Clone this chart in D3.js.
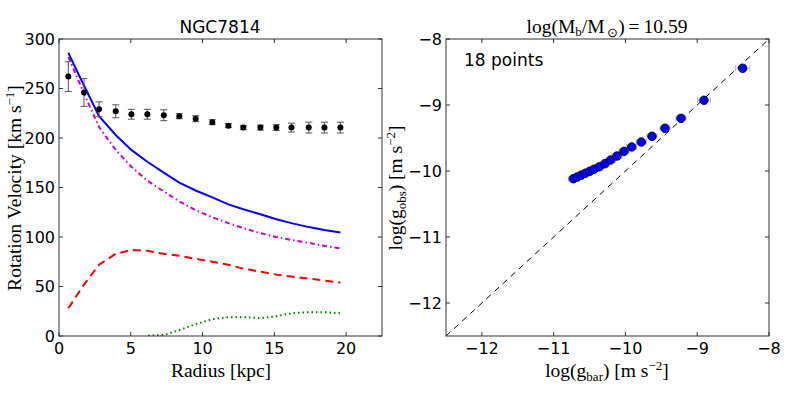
<!DOCTYPE html>
<html>
<head>
<meta charset="utf-8">
<script src="https://cdn.jsdelivr.net/npm/d3@7"></script>
<style>
  body { margin: 0; background: #fff; }
  svg { display: block; }
  .tick-label { font-family: "DejaVu Sans", sans-serif; font-size: 16px; fill: #000; }
  .axis-label { font-family: "Liberation Serif", serif; font-size: 19.5px; fill: #000; }
</style>
</head>
<body>
<svg id="chart" width="789" height="395"></svg>
<script>
/* global d3 */

// left panel: rotation curve
const radius = [0.65, 1.74, 2.79, 3.95, 5.04, 6.15, 7.3, 8.38, 9.52, 10.68, 11.8, 12.84, 14.03, 15.14, 16.19, 17.4, 18.49, 19.6];
const vObs = [262, 246, 229, 227, 224, 224, 223, 222, 219.5, 216, 212.5, 210.5, 210.5, 210.5, 210.5, 210.5, 210.5, 210.5];
const vErr = [15, 14, 7.5, 6.5, 5, 5, 5.5, 2.5, 3, 2.5, 2, 2, 2.5, 3, 4.5, 5.5, 5.5, 5.5];
const vBar = [286, 253, 222, 203, 188, 176, 165, 155, 147, 140, 133, 128, 123, 118, 114, 110, 107, 104.5];
const vBulge = [282, 245, 211, 188, 171, 157, 146, 136, 127, 120, 114, 109, 104, 100, 97, 94, 91, 88.5];
const vDisk = [28, 52, 72, 83, 87, 86, 83, 81, 78, 75, 72, 68, 65, 62, 60, 58, 56, 54];
const vGas = [-40, -35, -28, -20, -12, 0.5, 1, 6, 12, 17, 19, 19, 18, 20, 23, 24, 24, 23];

// right panel: radial acceleration relation
const logGbar = [-10.726, -10.671, -10.619, -10.559, -10.498, -10.438, -10.364, -10.285, -10.206, -10.118, -10.02, -9.913, -9.779, -9.63, -9.449, -9.226, -8.906, -8.367];
const logGobs = [-10.117, -10.091, -10.065, -10.035, -10.005, -9.974, -9.935, -9.889, -9.833, -9.773, -9.702, -9.636, -9.561, -9.474, -9.353, -9.202, -8.929, -8.444];
const gbarErr = [0.07, 0.07, 0.07, 0.07, 0.07, 0.07, 0.07, 0.07, 0.07, 0.07, 0.07, 0.07, 0.07, 0.07, 0.07, 0.07, 0.09, 0.1];

const leftTicksX = [0, 5, 10, 15, 20];
const leftTicksY = [0, 50, 100, 150, 200, 250, 300];
const rightTicks = [-12, -11, -10, -9, -8];

(function() {
  const svg = d3.select("#chart");
  const plotTop = 39, plotBottom = 336;

  /** Frame with inward ticks on all four sides, matplotlib classic look. */
  function frame(g, x, y, xt, yt, fmt) {
    const [x0, x1] = x.range();
    const [y0, y1] = y.range();
    g.append("rect")
      .attr("x", x0).attr("y", y1)
      .attr("width", x1 - x0).attr("height", y0 - y1)
      .attr("fill", "none").attr("stroke", "#333").attr("stroke-width", 1);
    xt.forEach(t => {
      g.append("line").attr("x1", x(t)).attr("x2", x(t)).attr("y1", y0).attr("y2", y0 - 4).attr("stroke", "#333");
      g.append("line").attr("x1", x(t)).attr("x2", x(t)).attr("y1", y1).attr("y2", y1 + 4).attr("stroke", "#333");
      g.append("text").classed("tick-label", true)
        .attr("x", x(t)).attr("y", y0 + 18).attr("text-anchor", "middle").text(fmt(t));
    });
    yt.forEach(t => {
      g.append("line").attr("x1", x0).attr("x2", x0 + 4).attr("y1", y(t)).attr("y2", y(t)).attr("stroke", "#333");
      g.append("line").attr("x1", x1).attr("x2", x1 - 4).attr("y1", y(t)).attr("y2", y(t)).attr("stroke", "#333");
      g.append("text").classed("tick-label", true)
        .attr("x", x0 - 4).attr("y", y(t) + 5.5).attr("text-anchor", "end").text(fmt(t));
    });
  }

  const minus = t => String(t).replace("-", "\u2212");

  // ---- left panel ----
  const xL = d3.scaleLinear().domain([0, 22.5]).range([59, 382]);
  const yL = d3.scaleLinear().domain([0, 300]).range([plotBottom, plotTop]);
  const left = svg.append("g");

  left.append("clipPath").attr("id", "clipL")
    .append("rect").attr("x", 59).attr("y", plotTop).attr("width", 323).attr("height", plotBottom - plotTop);

  const curves = left.append("g").attr("clip-path", "url(#clipL)");
  const line = vals => d3.line().x((d, i) => xL(radius[i])).y(d => yL(d))(vals);

  curves.append("path").attr("d", line(vGas)).attr("fill", "none")
    .attr("stroke", "#008000").attr("stroke-width", 2).attr("stroke-dasharray", "1.5,3");
  curves.append("path").attr("d", line(vDisk)).attr("fill", "none")
    .attr("stroke", "#ff0000").attr("stroke-width", 2).attr("stroke-dasharray", "8,5");
  curves.append("path").attr("d", line(vBulge)).attr("fill", "none")
    .attr("stroke", "#cc00cc").attr("stroke-width", 2).attr("stroke-dasharray", "5,3,1.5,3");
  curves.append("path").attr("d", line(vBar)).attr("fill", "none")
    .attr("stroke", "#0000ff").attr("stroke-width", 2);

  const pts = left.append("g");
  radius.forEach((r, i) => {
    const cx = xL(r);
    const ya = yL(vObs[i] + vErr[i]), yb = yL(vObs[i] - vErr[i]);
    pts.append("line").attr("x1", cx).attr("x2", cx).attr("y1", ya).attr("y2", yb).attr("stroke", "#555").attr("stroke-width", 1);
    [ya, yb].forEach(yy => pts.append("line").attr("x1", cx - 3.5).attr("x2", cx + 3.5).attr("y1", yy).attr("y2", yy).attr("stroke", "#555"));
    pts.append("circle").attr("cx", cx).attr("cy", yL(vObs[i])).attr("r", 3).attr("fill", "#000");
  });

  frame(left, xL, yL, leftTicksX, leftTicksY, String);

  left.append("text").attr("x", 220).attr("y", 33).attr("text-anchor", "middle")
    .style("font-family", "DejaVu Sans, sans-serif").style("font-size", "17px").text("NGC7814");

  left.append("text").classed("axis-label", true)
    .attr("x", 221).attr("y", 377).attr("text-anchor", "middle").text("Radius [kpc]");

  const yLabL = left.append("text").classed("axis-label", true)
    .attr("transform", "translate(21,188) rotate(-90)").attr("text-anchor", "middle");
  yLabL.append("tspan").text("Rotation Velocity [km s");
  yLabL.append("tspan").attr("dy", -7).style("font-size", "13px").text("\u22121");
  yLabL.append("tspan").attr("dy", 7).text("]");

  // ---- right panel ----
  const xR = d3.scaleLinear().domain([-12.5, -8]).range([446, 769]);
  const yR = d3.scaleLinear().domain([-12.5, -8]).range([plotBottom, plotTop]);
  const right = svg.append("g");

  right.append("line")
    .attr("x1", xR(-12.5)).attr("y1", yR(-12.5)).attr("x2", xR(-8)).attr("y2", yR(-8))
    .attr("stroke", "#000").attr("stroke-width", 1).attr("stroke-dasharray", "6,5");

  logGbar.forEach((g, i) => {
    const cy = yR(logGobs[i]);
    const xa = xR(g - gbarErr[i]), xb = xR(g + gbarErr[i]);
    right.append("line").attr("x1", xa).attr("x2", xb).attr("y1", cy).attr("y2", cy).attr("stroke", "#bbb");
    [xa, xb].forEach(xx => right.append("line").attr("x1", xx).attr("x2", xx).attr("y1", cy - 3).attr("y2", cy + 3).attr("stroke", "#bbb"));
  });
  logGbar.forEach((g, i) => {
    right.append("circle").attr("cx", xR(g)).attr("cy", yR(logGobs[i])).attr("r", 4.3)
      .attr("fill", "#0000ff").attr("stroke", "#000").attr("stroke-width", 0.8);
  });

  frame(right, xR, yR, rightTicks, rightTicks, minus);

  right.append("text").attr("x", 464).attr("y", 66)
    .style("font-family", "DejaVu Sans, sans-serif").style("font-size", "17px").text("18 points");

  const titleR = right.append("text").classed("axis-label", true)
    .attr("x", 607).attr("y", 33).attr("text-anchor", "middle");
  titleR.append("tspan").text("log(M");
  titleR.append("tspan").attr("dy", 3).style("font-size", "13px").text("b");
  titleR.append("tspan").attr("dy", -3).text("/M");
  titleR.append("tspan").attr("dy", 4).style("font-size", "13px").text("\u2009\u2299");
  titleR.append("tspan").attr("dy", -4).text(")\u2009=\u200910.59");

  const xLabR = right.append("text").classed("axis-label", true)
    .attr("x", 607).attr("y", 377).attr("text-anchor", "middle");
  xLabR.append("tspan").text("log(g");
  xLabR.append("tspan").attr("dy", 4).style("font-size", "13px").text("bar");
  xLabR.append("tspan").attr("dy", -4).text(") [m s");
  xLabR.append("tspan").attr("dy", -7).style("font-size", "13px").text("\u22122");
  xLabR.append("tspan").attr("dy", 7).text("]");

  const yLabR = right.append("text").classed("axis-label", true)
    .attr("transform", "translate(402,188) rotate(-90)").attr("text-anchor", "middle");
  yLabR.append("tspan").text("log(g");
  yLabR.append("tspan").attr("dy", 4).style("font-size", "13px").text("obs");
  yLabR.append("tspan").attr("dy", -4).text(") [m s");
  yLabR.append("tspan").attr("dy", -7).style("font-size", "13px").text("\u22122");
  yLabR.append("tspan").attr("dy", 7).text("]");
})();
</script>
</body>
</html>
